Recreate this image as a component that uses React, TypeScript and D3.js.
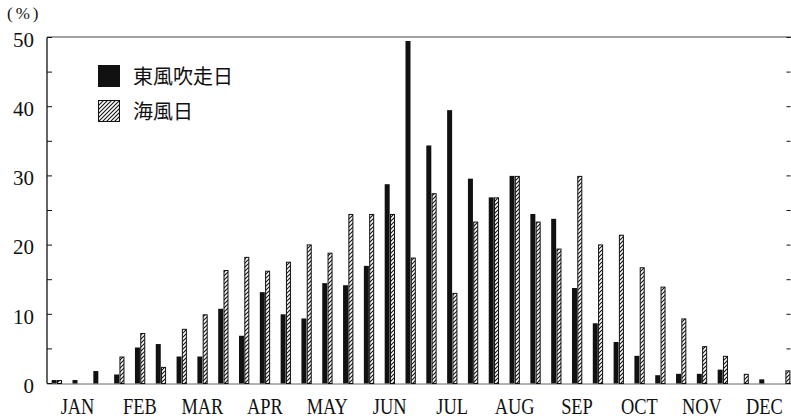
import React from "react";
import * as d3 from "d3";

const months = ["JAN", "FEB", "MAR", "APR", "MAY", "JUN", "JUL", "AUG", "SEP", "OCT", "NOV", "DEC"];
const periods = d3.range(36);
const eastWind = [0.5, 0.5, 1.8, 1.3, 5.2, 5.7, 3.9, 3.9, 10.8, 6.9, 13.2, 10.0, 9.4, 14.5, 14.2, 17.0, 28.8, 49.5, 34.4, 39.5, 29.6, 26.9, 30.0, 24.5, 23.8, 13.8, 8.7, 6.0, 4.0, 1.2, 1.4, 1.4, 2.0, 0, 0.6, 0];
const seaBreeze = [0.5, 0, 0, 3.9, 7.3, 2.4, 7.9, 10.0, 16.4, 18.3, 16.3, 17.6, 20.1, 18.9, 24.5, 24.5, 24.5, 18.2, 27.5, 13.1, 23.4, 26.9, 30.0, 23.4, 19.5, 30.0, 20.1, 21.5, 16.8, 14.0, 9.4, 5.4, 4.0, 1.4, 0, 1.9];
const yTicks = [0, 10, 20, 30, 40, 50];
const yMinorTicks = d3.range(0, 55, 5);
const legendLabels = ["東風吹走日", "海風日"];

const W = 791;
const H = 420;
const axisX = 47;
const rightX = 790.5;

export default function App() {
  const x = d3.scaleBand<number>().domain(periods).range([46.3, 795.5]).padding(0);
  const y = d3.scaleLinear().domain([0, 50]).range([383.5, 37.5]);
  const bw = 5;
  const c = (i: number) => (x(i) as number) + x.bandwidth() / 2;
  const serif = "'Liberation Serif', 'DejaVu Serif', serif";
  const cjk = "'Noto Sans CJK JP', 'Noto Sans CJK SC', sans-serif";

  return (
    <svg width={W} height={H} style={{ position: "absolute", left: 0, top: 0, background: "#fff" }}>
      <defs>
        <pattern id="hatch" patternUnits="userSpaceOnUse" width="4" height="4">
          <rect width="4" height="4" fill="#fff" />
          <path d="M-1,1 l2,-2 M0,4 l4,-4 M3,5 l2,-2" stroke="#111" strokeWidth="1.1" />
        </pattern>
      </defs>

      {/* frame */}
      <line x1={axisX} x2={axisX} y1={y(50)} y2={y(0)} stroke="#111" strokeWidth={1.3} />
      <line x1={axisX} x2={W} y1={y(50) - 0.5} y2={y(50) - 0.5} stroke="#444" strokeWidth={1.2} />
      <line x1={axisX} x2={W} y1={y(0) + 0.5} y2={y(0) + 0.5} stroke="#666" strokeWidth={1} />

      {yMinorTicks.map((t) => (
        <g key={"t" + t}>
          <line x1={axisX} x2={axisX + 5} y1={y(t)} y2={y(t)} stroke="#111" strokeWidth={1} />
          <line x1={rightX - 4} x2={rightX} y1={y(t)} y2={y(t)} stroke="#111" strokeWidth={1} />
        </g>
      ))}
      {yTicks.map((t) => (
        <text key={"l" + t} x={34} y={y(t) + 2} dy="0.35em" textAnchor="end" fontFamily={serif} fontSize={21} fill="#111">
          {t}
        </text>
      ))}
      <text x={7} y={19} fontFamily={serif} fontSize={17} letterSpacing={3} fill="#111">(%)</text>

      {/* bars */}
      {periods.map((i) => (
        <g key={"b" + i}>
          {eastWind[i] > 0 && (
            <rect x={c(i) - bw} y={y(eastWind[i])} width={bw} height={y(0) - y(eastWind[i])} fill="#111" />
          )}
          {seaBreeze[i] > 0 && (
            <rect
              x={c(i) + 0.8}
              y={y(seaBreeze[i]) + 0.5}
              width={bw - 1}
              height={y(0) - y(seaBreeze[i]) - 0.5}
              fill="url(#hatch)"
              stroke="#111"
              strokeWidth={1}
            />
          )}
        </g>
      ))}

      {/* month labels */}
      {months.map((m, k) => (
        <text
          key={m}
          transform={`translate(${c(k * 3 + 1)},414) scale(0.8,1)`}
          textAnchor="middle"
          fontFamily={serif}
          fontSize={23}
          fill="#111"
        >
          {m}
        </text>
      ))}

      {/* legend */}
      <rect x={98} y={65} width={22} height={22} fill="#111" />
      <text x={133} y={77} dy="0.35em" fontFamily={cjk} fontSize={20} fill="#111">{legendLabels[0]}</text>
      <rect x={98.5} y={100.5} width={21} height={21} fill="url(#hatch)" stroke="#111" strokeWidth={1} />
      <text x={133} y={112} dy="0.35em" fontFamily={cjk} fontSize={20} fill="#111">{legendLabels[1]}</text>
    </svg>
  );
}
